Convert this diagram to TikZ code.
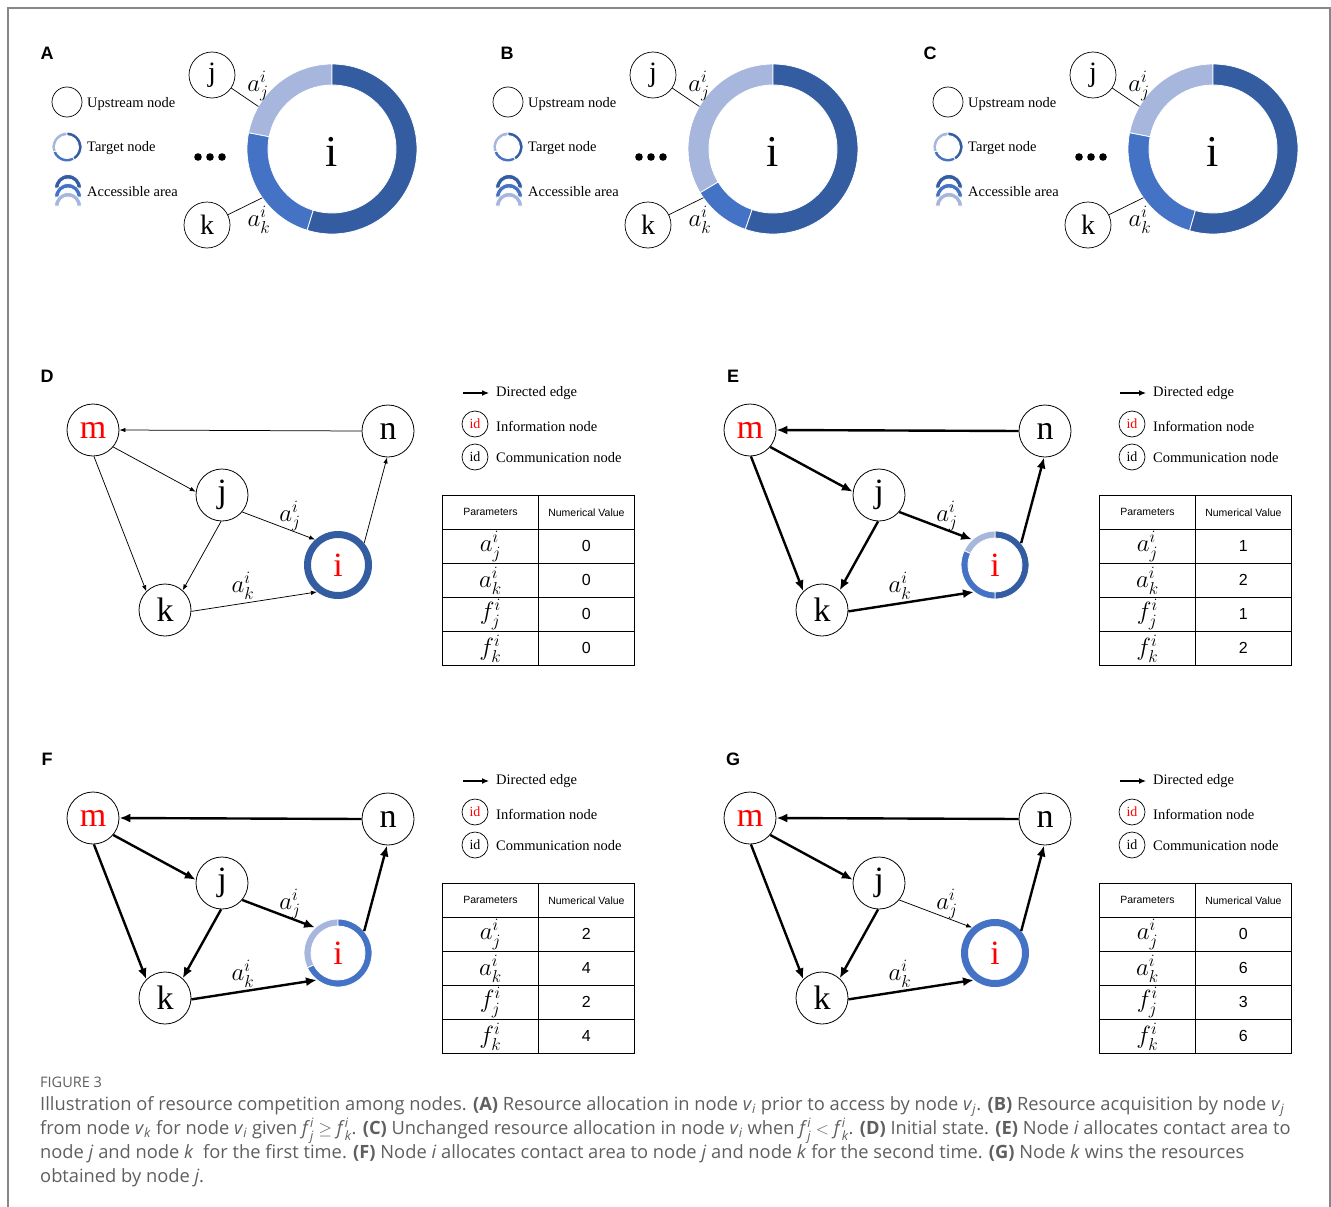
\documentclass[tikz,border=0pt]{standalone}
\usepackage{amsmath}
\usepackage{fontspec}
\setmainfont{Liberation Serif}
\setsansfont{Liberation Sans}
\newfontfamily\capfont{Open Sans}
\usetikzlibrary{arrows.meta, calc, matrix}

\definecolor{darkring}{RGB}{52,92,160}
\definecolor{midring}{RGB}{68,114,196}
\definecolor{lightring}{RGB}{166,182,220}
\definecolor{capgray}{RGB}{95,95,95}
\definecolor{framegray}{RGB}{135,135,135}

\newcommand{\fsz}[1]{\fontsize{#1}{#1}\selectfont}
\newcommand{\capv}[1]{\textit{v}\textsubscript{\textit{#1}}}
\newcommand{\capf}[1]{\textit{f}$^{\textit{i}}_{\textit{#1}}$}

% ring sector: centre, inner r, outer r, start, end, colour
\newcommand{\ringseg}[6]{%
  \fill[#6, draw=white, line width=0.8pt] ($(#1)+(#4:#3)$) arc[start angle=#4, end angle=#5, radius=#3]
    -- ($(#1)+(#5:#2)$) arc[start angle=#5, end angle=#4, radius=#2] -- cycle;}
\newcommand{\fullring}[1]{\draw[#1, line width=7pt] (i.center) circle[radius=30.5];}

% top row: prefix, x shift, light/mid angle, mid/dark angle
\newcommand{\accpanel}[4]{%
  \begin{scope}[shift={(#2,0)}, name prefix=#1-]
    % --- legend ---
    \node[upnode, minimum size=30pt] (lu) at (67,-102) {};
    \node[legtext] (lut) at (87,-104) {Upstream node};
    \coordinate (lt) at (67,-147);
    \ringseg{lt}{11.5}{15}{90}{200}{lightring}
    \ringseg{lt}{11.5}{15}{200}{300}{midring}
    \ringseg{lt}{11.5}{15}{300}{450}{darkring}
    \node[legtext] (ltt) at (87,-148) {Target node};
    \coordinate (la1) at (68,-188);
    \coordinate (la2) at (68,-197);
    \coordinate (la3) at (68,-206);
    \ringseg{la1}{9}{13.5}{0}{180}{darkring}
    \ringseg{la2}{9}{13.5}{0}{180}{midring}
    \ringseg{la3}{9}{13.5}{0}{180}{lightring}
    \node[legtext] (lat) at (87,-192) {Accessible area};
    % --- node i and its area ---
    \coordinate (c) at (332,-149);
    \ringseg{c}{64}{85}{90}{#3}{lightring}
    \ringseg{c}{64}{85}{#3}{#4}{midring}
    \ringseg{c}{64}{85}{#4}{450}{darkring}
    \node[font=\fsz{44}] (i) at (332,-152) {i};
    % --- upstream nodes ---
    \node[upnode] (j) at (212,-75) {j};
    \node[upnode] (k) at (207,-225) {k};
    \fill (198,-157) circle[radius=3.8] (210,-157) circle[radius=3.8] (222,-157) circle[radius=3.8];
    \coordinate (jr) at ($(c)+(150:85)$);
    \coordinate (kr) at ($(c)+(215:85)$);
    \draw[line width=0.7pt] (j) -- (jr);
    \draw[line width=0.7pt] (k) -- (kr);
    \node[elabel] (aj) at (258,-86) {$a_j^i$};
    \node[elabel] (ak) at (259,-220) {$a_k^i$};
  \end{scope}}

% graph panels: prefix, shift, edge style, j-i edge style, four values, ring of i
\newcommand{\netpanel}[9]{%
  \begin{scope}[shift={(#2)}, name prefix=#1-]
    % --- nodes ---
    \node[netnode, text=red] (m) at (93,-430) {m};
    \node[netnode] (n) at (388,-431) {n};
    \node[netnode] (j) at (222,-495) {j};
    \node[netnode] (k) at (165,-610) {k};
    \node[inode] (i) at (338,-565) {i};
    #9
    % --- edges ---
    \draw[#3] (n.180) -- (m.0);
    \draw[#3] (m.-40) -- (j.173);
    \draw[#3] (m.-88) -- (k.135);
    \draw[#3] (j.-92) -- (k.48);
    \draw[#4] (j.-40) -- (i.132);
    \draw[#3] (k.-3) -- (i.232);
    \draw[#3] (i.40) -- (n.-92);
    \node[elabel] (aj) at (290,-516) {$a_j^i$};
    \node[elabel] (ak) at (243,-586) {$a_k^i$};
    % --- legend ---
    \coordinate (la) at (463,-393);
    \coordinate (lb) at (489,-393);
    \draw[-{Latex[length=7pt, width=6pt]}, line width=1.2pt] (la) -- (lb);
    \node[legtext] (lat) at (496,-393) {Directed edge};
    \node[idnode, text=red] (li) at (475,-424) {id};
    \node[legtext] (lit) at (496,-426) {Information node};
    \node[idnode] (lc) at (475,-457) {id};
    \node[legtext] (lct) at (496,-458) {Communication node};
    % --- table ---
    \matrix[partable] (tab) at (442,-495) {
      Parameters \& Numerical Value \\
      $a_j^i$ \& #5 \\
      $a_k^i$ \& #6 \\
      $f_j^i$ \& #7 \\
      $f_k^i$ \& #8 \\
    };
  \end{scope}}

\begin{document}
\begin{tikzpicture}[x=1pt, y=1pt,
    upnode/.style={circle, draw, line width=0.7pt, minimum size=46pt, inner sep=0pt, font=\fsz{28}},
    netnode/.style={circle, draw, line width=0.8pt, minimum size=52pt, inner sep=0pt, font=\fsz{34}},
    inode/.style={circle, minimum size=68pt, inner sep=0pt, text=red, font=\fsz{34}},
    idnode/.style={circle, draw, line width=0.7pt, minimum size=26pt, inner sep=0pt, font=\fsz{14}},
    legtext/.style={anchor=west, inner sep=0pt, font=\fsz{14.5}},
    elabel/.style={inner sep=0pt, font=\fsz{25}},
    panel/.style={font=\sffamily\bfseries\fsz{18}},
    thinedge/.style={-{Latex[length=6pt, width=4.5pt]}, line width=0.75pt},
    thickedge/.style={-{Latex[length=11pt, width=9pt]}, line width=2.4pt},
    partable/.style={matrix of nodes, ampersand replacement=\&, anchor=north west, inner sep=0pt, outer sep=0pt,
      column sep=-0.8pt, row sep=-0.8pt,
      nodes={draw, line width=0.8pt, minimum width=96pt, minimum height=34pt, inner sep=0pt, anchor=center, font=\sffamily\fsz{16}},
      column 1/.style={nodes={font=\fsz{23}}},
      row 1/.style={nodes={font=\sffamily\fsz{10.5}}}}
  ]
  \useasboundingbox (0,0) rectangle (1331,-1207);
  \fill[white] (0,0) rectangle (1331,-1207);
  \draw[framegray, line width=1.2pt] (8,-1207) -- (8,-8) -- (1330,-8) -- (1330,-1207);

  % --- panel letters ---
  \node[panel] (pA) at (47,-53) {A};
  \node[panel] (pB) at (507,-53) {B};
  \node[panel] (pC) at (930,-53) {C};
  \node[panel] (pD) at (47,-376) {D};
  \node[panel] (pE) at (733,-376) {E};
  \node[panel] (pF) at (47,-759) {F};
  \node[panel] (pG) at (733,-759) {G};

  % --- top row ---
  \accpanel{A}{0}{169}{253}
  \accpanel{B}{441}{211}{251}
  \accpanel{C}{881}{169}{254}

  % --- graph panels ---
  \netpanel{D}{0,0}{thinedge}{thinedge}{0}{0}{0}{0}{\fullring{darkring}}
  \netpanel{E}{657,0}{thickedge}{thickedge}{1}{2}{1}{2}{%
    \ringseg{i}{27}{34}{-90}{90}{darkring}
    \ringseg{i}{27}{34}{90}{155}{lightring}
    \ringseg{i}{27}{34}{155}{270}{midring}}
  \netpanel{F}{0,-388}{thickedge}{thickedge}{2}{4}{2}{4}{%
    \ringseg{i}{27}{34}{90}{206}{lightring}
    \ringseg{i}{27}{34}{206}{450}{midring}}
  \netpanel{G}{657,-388}{thickedge}{thinedge}{0}{6}{3}{6}{\fullring{midring}}

  % --- caption ---
  \node[anchor=west, inner sep=0pt, font=\capfont\fsz{14.5}, text=capgray] (fig) at (40,-1082) {FIGURE 3};
  \node[anchor=north west, inner sep=0pt, align=left, font=\capfont\fontsize{18.3}{24}\selectfont, text=capgray] (cap) at (40,-1096) {%
    Illustration of resource competition among nodes. \textbf{(A)} Resource allocation in node \capv{i} prior to access by node \capv{j}. \textbf{(B)} Resource acquisition by node \capv{j}\\
    from node \capv{k} for node \capv{i} given \capf{j} $\geq$ \capf{k}. \textbf{(C)} Unchanged resource allocation in node \capv{i} when \capf{j} $<$ \capf{k}. \textbf{(D)} Initial state. \textbf{(E)} Node \textit{i} allocates contact area to\\
    node \textit{j} and node \textit{k}\ \ for the first time. \textbf{(F)} Node \textit{i} allocates contact area to node \textit{j} and node \textit{k} for the second time. \textbf{(G)} Node \textit{k} wins the resources\\
    obtained by node \textit{j}.};
\end{tikzpicture}
\end{document}
